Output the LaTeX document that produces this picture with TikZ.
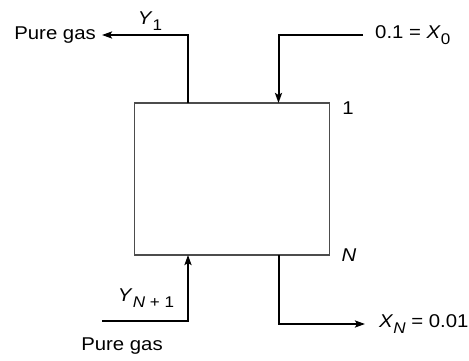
\documentclass[tikz,border=0pt]{standalone}
\usepackage{fontspec}
\setmainfont[FakeStretch=1.1]{Liberation Sans}
\usetikzlibrary{arrows.meta}
\newcommand{\lo}[1]{\raisebox{-0.55ex}{\fontsize{15.5}{15.5}\selectfont #1}}
\tikzset{
  lbl/.style={font=\fontsize{18.5}{21}\selectfont, inner sep=0pt},
  flow/.style={line width=2pt, -{Stealth[length=10pt,width=7pt,inset=2pt]}}
}
\begin{document}
\begin{tikzpicture}[x=1pt,y=-1pt]
\useasboundingbox (0,0) rectangle (469,360);
\node[draw=black!70, line width=1.2pt, minimum width=195pt, minimum height=152pt, inner sep=0pt] (box) at (232,179) {};
\coordinate (top1) at (188,103);
\coordinate (top2) at (278.5,103);
\coordinate (bot1) at (188,255);
\coordinate (bot2) at (278.5,255);
\coordinate (gasin) at (102,321);
\node[lbl, anchor=east] (pgout) at (96,35) {Pure gas};
\node[lbl] (yone) at (150,21) {\textit{Y}\lo{1}};
\node[lbl, anchor=west] (xin) at (375,35) {0.1 = \textit{X}\lo{0}};
\node[lbl] (one) at (348,108) {1};
\node[lbl] (enn) at (349,255) {\textit{N}};
\node[lbl] (ynp) at (146,298) {\textit{Y}\lo{\textit{N} + 1}};
\node[lbl] (pgin) at (122,346) {Pure gas};
\node[lbl, anchor=west] (xout) at (379,324) {\textit{X}\lo{\textit{N}} = 0.01};
\draw[flow, shorten >=6pt] (top1) |- (pgout.east);
\draw[flow, shorten <=12pt] (xin.west) -| (top2);
\draw[flow] (gasin) -| (bot1);
\draw[flow, shorten >=14pt] (bot2) |- (xout.west);
\end{tikzpicture}
\end{document}
